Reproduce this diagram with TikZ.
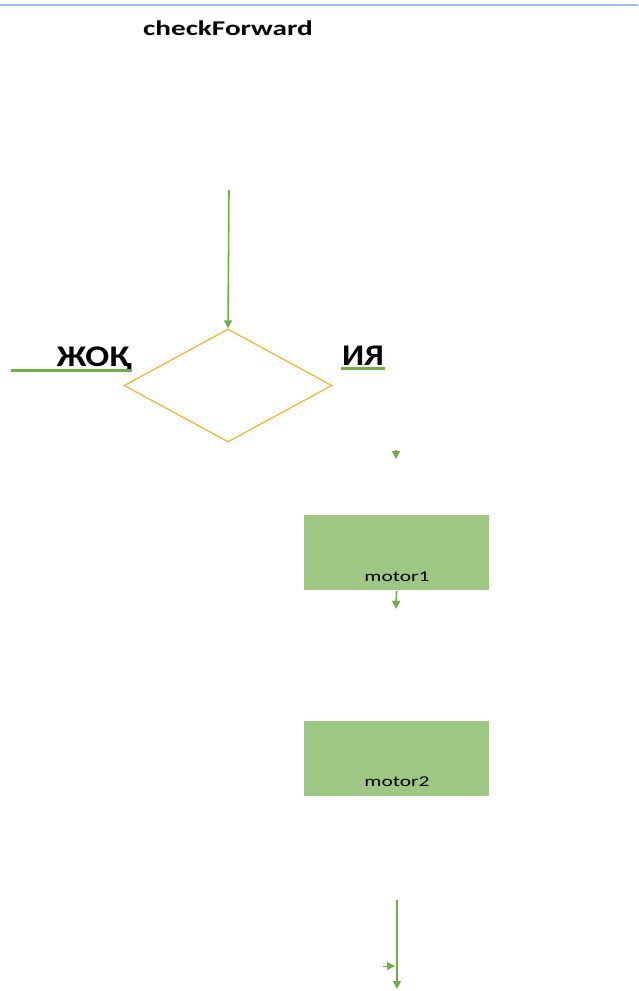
\documentclass[tikz,border=0pt]{standalone}
\usepackage{fontspec}
\setmainfont{Carlito}
\usetikzlibrary{shapes.geometric,arrows.meta}
\definecolor{lgreen}{HTML}{70AD47}
\definecolor{boxgreen}{HTML}{9DC783}
\definecolor{dorange}{HTML}{F2B73A}
\definecolor{topblue}{HTML}{A4C0E6}
\tikzset{
  flow/.style={draw=lgreen, line width=1.6pt, -{Triangle[length=8pt,width=8pt]}},
  procbox/.style={fill=boxgreen, draw=none, minimum width=185pt, minimum height=75pt, inner sep=0pt},
  boxlabel/.style={font=\fontsize{15}{15}\selectfont, inner sep=0pt, xscale=1.43},
  ullabel/.style={font=\fontsize{30}{30}\selectfont\bfseries, inner sep=0pt, anchor=base},
  uline/.style={draw=lgreen, line width=3pt},
}
\begin{document}
\begin{tikzpicture}[x=1pt,y=-1pt]
\useasboundingbox (0,0) rectangle (638,991);
\fill[white] (0,0) rectangle (638,991);
% top rule
\coordinate (tl) at (0,5);
\coordinate (tr) at (638,5);
\draw[topblue, line width=2.5pt] (tl) -- (tr);
% title
\node[font=\fontsize{21}{21}\selectfont\bfseries, inner sep=0pt, xscale=1.39] (title) at (228,28) {checkForward};
% decision
\node[draw=dorange, line width=1.3pt, diamond, minimum width=208pt, minimum height=113pt, inner sep=0pt, aspect=1.84] (dec) at (228,385.5) {};
\coordinate (in) at (229,190);
\draw[flow] (in) -- (dec.north);
% labels
\node[ullabel, xscale=1.18] (no) at (94,366) {ЖОҚ};
\coordinate (nol) at (11,370);
\coordinate (nor) at (132,370);
\draw[uline] (nol) -- (nor);
\node[ullabel, xscale=1.13] (yes) at (363,365) {ИЯ};
\coordinate (yesl) at (341,368);
\coordinate (yesr) at (385,368);
\draw[uline] (yesl) -- (yesr);
% lone arrowhead
\coordinate (a1s) at (396,450);
\coordinate (a1e) at (396,459);
\draw[flow] (a1s) -- (a1e);
% boxes
\node[procbox] (m1) at (396.5,552.5) {};
\node[boxlabel] (m1t) at (397,577) {motor1};
\node[procbox] (m2) at (396.5,758.5) {};
\node[boxlabel] (m2t) at (397,782) {motor2};
\coordinate (m1out) at (396,609);
\draw[flow] (m1.south) ++(0,1) coordinate (m1s) -- (m1out);
% bottom line
\coordinate (bs) at (397,900);
\coordinate (be) at (397,989);
\draw[flow] (bs) -- (be);
\coordinate (sidea) at (383,966);
\coordinate (sideb) at (395,966);
\draw[flow, line width=0.1pt] (sidea) -- (sideb);
\end{tikzpicture}
\end{document}
